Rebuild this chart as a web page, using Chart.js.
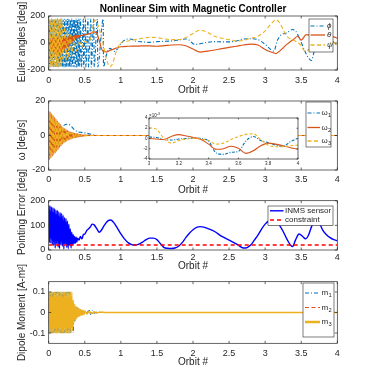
<!DOCTYPE html>
<html>
<head>
<meta charset="utf-8">
<script src="https://cdn.jsdelivr.net/npm/chart.js@4.4.1/dist/chart.umd.min.js"></script>
<style>
html,body{margin:0;padding:0;background:#fff;}
#fig{position:relative;width:373px;height:370px;background:#fff;overflow:hidden;}
#fig canvas{position:absolute;left:0;top:0;}
</style>
</head>
<body>
<div id="fig">
<canvas id="euler" width="373" height="370"></canvas>
<canvas id="rate" width="373" height="370"></canvas>
<canvas id="inset" width="373" height="370"></canvas>
<canvas id="point" width="373" height="370"></canvas>
<canvas id="dipole" width="373" height="370"></canvas>
</div>
<script>
// ---------------- tick values ----------------
const orbitTicks = [0, 0.5, 1, 1.5, 2, 2.5, 3, 3.5, 4];
const eulerTicks = [-200, 0, 200];
const rateTicks = [-20, 0, 20];
const pointTicks = [0, 100, 200];
const dipoleTicks = [-0.1, 0, 0.1];
const insetXTicks = [3, 3.2, 3.4, 3.6, 3.8, 4];
const insetYTicks = [-4, -2, 0, 2, 4];

// ---------------- legend names ----------------
const eulerNames = ['ϕ', 'θ', 'ψ'];
const rateNames = ['1', '2', '3'];
const pointNames = ['INMS sensor', 'constraint'];
const dipoleNames = ['1', '2', '3'];

// ---------------- shared fine orbit grid (early, fast oscillation part) ----------------
const orbitFine = [0,0.01,0.02,0.03,0.04,0.05,0.06,0.07,0.08,0.09,0.1,0.11,0.12,0.13,0.14,0.15,0.16,0.17,0.18,0.19,0.2,0.21,0.22,0.23,0.24,0.25,0.26,0.27,0.28,0.29,0.3,0.31,0.32,0.33,0.34,0.35,0.36,0.37,0.38,0.39,0.4,0.41,0.42,0.43,0.44,0.45,0.46,0.47,0.48,0.49,0.5];

// ---------------- Euler angles [deg] ----------------
const phiFineY = [175,-178,172,-176,178,-170,176,-179,170,-175,177,-172,179,-176,174,-178,176,-173,178,-175,172,-177,175,-179,171,-176,178,-174,175,-178,173,-176,179,-172,176,-178,174,-175,177,-179,172,-176,178,-174,176];
const phiTailX = [0.455,0.48,0.485,0.51,0.515,0.545,0.55,0.585,0.59,0.625,0.63,0.675,0.68,0.755,0.76,0.79,0.82,0.85,0.88,0.91,0.95,1.0,1.05,1.1,1.15,1.2,1.3,1.4,1.5,1.6,1.7,1.8,1.9,1.95,2.0,2.05,2.1,2.2,2.3,2.4,2.5,2.6,2.7,2.8,2.9,3.0,3.08,3.12,3.17,3.22,3.3,3.38,3.42,3.48,3.55,3.6,3.64,3.68,3.72,3.78,3.85,3.92,4.0];
const phiTailY = [-178,178,-178,178,-178,178,-178,178,-178,178,-178,178,-178,178,-178,-110,-55,-40,-50,-62,-45,-5,20,30,28,15,8,5,10,12,15,22,30,20,-5,-10,-5,5,10,8,8,15,30,32,25,-10,-50,-60,20,60,75,100,90,30,-60,-110,-130,-60,30,70,60,20,-20];

const thetaFineY = [30,-35,38,-42,38,-60,42,-70,45,-85,50,-92,48,-95,45,-95,44,-88,42,-75,45,-62,44,-50,45,-38,47,-25,48,-12,50,-2,52,10,54,20,56,28,58,36,58,42,58,48,56];
const thetaTailX = [0.46,0.5,0.55,0.6,0.63,0.66,0.7,0.73,0.76,0.8,0.85,0.9,0.95,1.0,1.1,1.2,1.3,1.4,1.5,1.6,1.7,1.8,1.9,2.0,2.1,2.2,2.3,2.4,2.5,2.6,2.7,2.8,2.9,3.0,3.1,3.15,3.2,3.3,3.4,3.45,3.5,3.57,3.65,3.75,3.85,3.95,4.0];
const thetaTailY = [55,60,68,75,82,78,20,-40,-62,-65,-55,-45,-35,-28,-24,-23,-22,-22,-24,-20,-15,-13,-20,-45,-67,-60,-52,-42,-33,-24,-15,-8,-15,-48,-70,-78,-60,-10,30,50,22,62,55,45,50,45,35];

const psiFineY = [178,-176,175,-178,177,-174,176,-179,174,-177,178,-175,176,-178,173,-176,178,-172,170];
const psiTailX = [0.2,0.22,0.24,0.26,0.28,0.3,0.32,0.35,0.38,0.42,0.46,0.5,0.55,0.6,0.64,0.67,0.71,0.76,0.8,0.85,0.88,0.92,0.96,1.0,1.1,1.2,1.3,1.4,1.5,1.6,1.7,1.8,1.9,2.0,2.1,2.2,2.3,2.4,2.5,2.6,2.7,2.8,2.9,3.0,3.08,3.15,3.2,3.25,3.3,3.4,3.5,3.55,3.6,3.7,3.8,3.9,4.0];
const psiTailY = [-150,120,-130,90,-110,60,-90,40,-60,20,-30,10,0,80,170,150,85,-20,-120,-175,-160,-90,-30,0,15,25,35,42,40,30,25,25,40,70,95,80,50,35,25,15,20,35,50,90,140,172,150,100,50,20,-20,-60,-50,0,40,30,-20];

// ---------------- body rates ω [deg/s] ----------------
const omega1X = [0,0.05,0.1,0.15,0.2,0.25,0.28,0.32,0.36,0.4,0.45,0.5,0.55,0.6,0.65,0.7,1,2,3,4];
const omega1Y = [0,1,2,3.5,5.5,6.5,6.4,5,3.2,2.2,1.8,1.5,1.1,0.6,0.2,0,0,0,0,0];
const omega2FineY = [14,-14,13.5,-13,12.5,-12,11.5,-11,10.5,-10,9.5,-9,8.5,-8,7.5,-7,6.5,-6,5.5,-5,4.5,-4.2,4,-3.7,3.4,-3.1,2.8,-2.6,2.4,-2.2,2,-1.9,1.8,-1.6,1.5,-1.4,1.3,-1.2,1.1,-1,0.9,-0.8,0.7,-0.6,0.5,-0.5,0.4,-0.35,0.3,-0.25,0.2];
const omega3FineY = [-13.5,13.8,-13,12.8,-12.2,11.8,-11.2,10.8,-10.2,9.8,-9.2,8.8,-8.2,7.8,-7.2,6.8,-6.2,5.8,-5.2,4.8,-4.4,4.1,-3.8,3.6,-3.3,3.0,-2.8,2.5,-2.3,2.1,-2.0,1.8,-1.7,1.6,-1.4,1.3,-1.2,1.1,-1.0,0.9,-0.8,0.7,-0.6,0.55,-0.5,0.45,-0.4,0.3,-0.3,0.2,-0.2];
const omegaTailX = [0.55,0.6,0.7,1,2,3,4];
const omega2TailY = [0.1,0,0,0,0,0,0];
const omega3TailY = [-0.1,0,0,0,0,0,0];

// inset (orbit 3..4, values in units of 1e-3 deg/s)
const insetX = [3,3.05,3.1,3.15,3.2,3.25,3.3,3.35,3.4,3.45,3.5,3.55,3.6,3.65,3.7,3.75,3.8,3.85,3.9,3.95,4];
const insetW1 = [0.3,0.2,-0.2,-0.3,-0.1,0.0,0.1,0.0,-0.5,-2.8,-3.1,-2.7,-2.5,-0.5,0.4,-0.4,-0.8,-1.3,-1.5,-0.6,0.05];
const insetW2 = [0,-0.1,-0.2,0.4,0.75,0.5,0.2,-0.2,-1.1,-2.1,-2.0,-1.5,-1.9,-2.9,-2.4,-1.4,-0.9,-1.1,-1.4,-1.8,-2.1];
const insetW3 = [2.1,1.8,0.0,-0.9,-0.4,-0.1,0.05,-0.1,-0.4,-1.1,-0.9,-0.2,0.4,0.8,0.9,-0.2,-1.3,-1.6,-1.6,-1.4,-1.3];

// ---------------- pointing error [deg] ----------------
const pointFineY = [182,30,178,28,175,22,172,18,168,8,162,25,160,12,155,6,150,20,148,15,140,4,132,22,128,10,118,5,105,18,85,8,72,20,62,25,55,28,52,32,48];
const pointTailX = [0.42,0.44,0.46,0.48,0.5,0.53,0.55,0.58,0.6,0.63,0.67,0.7,0.73,0.77,0.82,0.86,0.9,0.95,1.0,1.05,1.1,1.15,1.2,1.25,1.3,1.35,1.4,1.45,1.5,1.55,1.6,1.65,1.7,1.75,1.8,1.85,1.9,1.95,2.0,2.05,2.1,2.15,2.2,2.3,2.4,2.5,2.6,2.65,2.7,2.75,2.8,2.85,2.9,2.95,3.0,3.05,3.1,3.15,3.2,3.25,3.3,3.35,3.38,3.42,3.47,3.52,3.56,3.6,3.65,3.7,3.75,3.8,3.85,3.9,3.95,4.0];
const pointTailY = [40,55,45,62,65,80,85,95,105,102,85,72,80,100,118,122,112,90,65,45,30,22,20,24,32,42,48,48,42,25,10,7,6,8,15,30,50,68,82,92,95,93,88,75,55,40,25,15,8,10,20,40,60,85,105,118,125,120,100,75,45,20,14,40,65,55,45,60,100,125,110,80,62,50,42,38];
const constraintX = [0, 4];
const constraintY = [20, 20];

// ---------------- dipole moment [A-m^2] ----------------
const m1FineY = [-0.1,0.1,-0.1,0.1,-0.1,0.1,-0.1,0.1,-0.1,0.1,-0.1,0.1,-0.1,0.1,-0.1,0.1,-0.1,0.1,-0.1,0.1,-0.1,0.1,-0.1,0.1,-0.1,0.1,-0.1,0.1,-0.1,0.1,-0.1,0.06,-0.07,0.05,-0.1,0.04,-0.045,0.03,-0.03,0.025,-0.02,0.02,-0.015,0.015,-0.012,0.01,-0.01,0.01,-0.008,0.008,-0.006];
const m1TailX = [0.53,0.56,0.58,0.6,0.63,0.66,0.7,0.8,1,2,3,4];
const m1TailY = [-0.005,0.015,-0.01,0.012,-0.004,0.003,0,0,0,0,0,0];
const m2FineY = [0.07,-0.07,0.07,-0.07,0.07,-0.07,0.07,-0.07,0.07,-0.07,0.07,-0.07,0.07,-0.07,0.07,-0.07,0.07,-0.07,0.07,-0.07,0.07,-0.07,0.07,-0.07,0.07,-0.07,0.07,-0.07,0.07,-0.07,0.07,0.05,-0.04,0.03,-0.03,0.02,-0.02,0.015,-0.015,0.01,-0.01,0.01,-0.008,0.008,-0.006,0.006,-0.005,0.004,-0.004,0.003,-0.003];
const m2TailX = [0.55,0.6,0.7,0.8,1,2,3,4];
const m2TailY = [0.003,-0.002,0.001,0,0,0,0,0];
const m3FineY = [0.1,-0.1,0.1,-0.1,0.1,-0.1,0.1,-0.1,0.1,-0.1,0.1,-0.1,0.1,-0.1,0.1,-0.1,0.1,-0.1,0.1,-0.1,0.1,-0.1,0.1,-0.1,0.1,-0.1,0.1,-0.1,0.1,-0.1,0.1,-0.1,0.1,-0.09,0.06,-0.05,0.04,-0.04,0.03,-0.03,0.025,-0.02,0.02,-0.018,0.015,-0.015,0.012,-0.012,0.01,-0.01,0.008];
const m3TailX = [0.53,0.56,0.6,0.63,0.66,0.7,0.8,1,2,3,4];
const m3TailY = [-0.008,0.006,-0.006,0.004,-0.003,0.002,0,0,0,0,0];

// =====================================================================
const FONT = "'Liberation Sans', Arial, Helvetica, sans-serif";
const INK = '#262626';
const BLUE = '#0072BD', ORANGE = '#D95319', YELLOW = '#EDB120';
const DASHDOT = [4, 2, 1, 2], DASHED = [4, 2.5];

function pts(xs, ys) { return ys.map((y, i) => ({ x: xs[i], y })); }
function joined(fineY, tailX, tailY) {
  return pts(orbitFine.slice(0, fineY.length).concat(tailX), fineY.concat(tailY));
}
function line(data, color, width, dash, order) {
  return { data, borderColor: color, backgroundColor: color, borderWidth: width, borderDash: dash || [],
    pointRadius: 0, pointHoverRadius: 0, fill: false, tension: 0.3, cubicInterpolationMode: 'monotone', order };
}

function drawLegend(ctx, L) {
  ctx.save();
  ctx.fillStyle = '#fff';
  ctx.fillRect(L.x, L.y, L.w, L.h);
  ctx.strokeStyle = INK; ctx.lineWidth = 0.6;
  ctx.strokeRect(L.x, L.y, L.w, L.h);
  L.items.forEach(it => {
    ctx.beginPath();
    ctx.setLineDash(it.dash || []);
    ctx.strokeStyle = it.color; ctx.lineWidth = it.width;
    ctx.moveTo(L.lx0, it.y); ctx.lineTo(L.lx1, it.y); ctx.stroke();
    ctx.setLineDash([]);
    ctx.fillStyle = INK; ctx.textAlign = 'left'; ctx.textBaseline = 'middle';
    ctx.font = (L.italic ? 'italic ' : '') + L.size + 'px ' + FONT;
    ctx.fillText(it.text, L.tx, it.y);
    if (it.sub) {
      const w = ctx.measureText(it.text).width;
      ctx.font = (L.size * 0.72) + 'px ' + FONT;
      ctx.fillText(it.sub, L.tx + w + 0.3, it.y + L.size * 0.32);
    }
  });
  ctx.restore();
}

const framePlugin = {
  id: 'frame',
  beforeDatasetsDraw(chart, args, o) {
    if (o.blank) {
      const a = chart.chartArea, c = chart.ctx;
      c.save(); c.fillStyle = '#fff'; c.fillRect(a.left, a.top, a.right - a.left, a.bottom - a.top); c.restore();
    }
  },
  afterDraw(chart, args, o) {
    const c = chart.ctx, a = chart.chartArea, xs = chart.scales.x, ys = chart.scales.y;
    const L = o.tick || 2.5;
    c.save();
    c.strokeStyle = INK; c.lineWidth = 0.7; c.setLineDash([]);
    c.strokeRect(a.left, a.top, a.right - a.left, a.bottom - a.top);
    c.beginPath();
    xs.ticks.forEach(t => {
      const p = xs.getPixelForValue(t.value);
      c.moveTo(p, a.bottom); c.lineTo(p, a.bottom - L);
      c.moveTo(p, a.top); c.lineTo(p, a.top + L);
    });
    ys.ticks.forEach(t => {
      const p = ys.getPixelForValue(t.value);
      c.moveTo(a.left, p); c.lineTo(a.left + L, p);
      c.moveTo(a.right, p); c.lineTo(a.right - L, p);
    });
    c.stroke();
    if (o.ylabel) {
      c.save();
      c.translate(o.ylabel.x, o.ylabel.y);
      c.rotate(-Math.PI / 2);
      c.fillStyle = INK; c.textAlign = 'center'; c.textBaseline = 'alphabetic';
      c.font = '10px ' + FONT;
      c.fillText(o.ylabel.text, 0, 0);
      c.restore();
    }
    if (o.exponent) {
      const e = o.exponent;
      c.fillStyle = INK; c.textAlign = 'left'; c.textBaseline = 'alphabetic';
      c.font = e.size + 'px ' + FONT;
      c.fillText(e.base, e.x, e.y);
      const w = c.measureText(e.base).width;
      c.font = (e.size * 0.75) + 'px ' + FONT;
      c.fillText(e.exp, e.x + w + 0.2, e.y - e.size * 0.4);
    }
    if (o.legend) drawLegend(c, o.legend);
    c.restore();
  }
};

function makeChart(id, cfg) {
  const tickFont = { family: FONT, size: cfg.tickSize || 9 };
  return new Chart(document.getElementById(id), {
    type: 'line',
    data: { datasets: cfg.datasets },
    options: {
      responsive: false, animation: false, devicePixelRatio: 1, events: [],
      layout: { padding: cfg.padding },
      scales: {
        x: {
          type: 'linear', min: cfg.xmin, max: cfg.xmax,
          grid: { display: false, drawTicks: false, tickLength: 0 }, border: { display: false },
          ticks: { color: INK, font: tickFont, padding: cfg.xPad, autoSkip: false, maxRotation: 0, minRotation: 0, callback: v => String(v) },
          afterBuildTicks: s => { s.ticks = cfg.xTicks.map(v => ({ value: v })); },
          afterFit: s => { s.height = cfg.xh; },
          title: cfg.xTitle ? { display: true, text: cfg.xTitle, color: INK, font: { family: FONT, size: 10 }, padding: { top: 0, bottom: 0 } } : { display: false }
        },
        y: {
          type: 'linear', min: cfg.ymin, max: cfg.ymax,
          grid: { display: false, drawTicks: false, tickLength: 0 }, border: { display: false },
          ticks: { color: INK, font: tickFont, padding: cfg.yPad, autoSkip: false, callback: v => String(v) },
          afterBuildTicks: s => { s.ticks = cfg.yTicks.map(v => ({ value: v })); },
          afterFit: s => { s.width = cfg.yw; }
        }
      },
      plugins: {
        legend: { display: false },
        tooltip: { enabled: false },
        title: cfg.title ? { display: true, text: cfg.title, color: '#000', fullSize: false,
          font: { family: FONT, size: 10, weight: 'bold' }, padding: { top: 3, bottom: 1 } } : { display: false },
        frame: cfg.frame
      }
    },
    plugins: [framePlugin]
  });
}

const YLAB_X = 24.5;

// ---- Panel 1: Euler angles ----
makeChart('euler', {
  datasets: [
    line(joined(phiFineY, phiTailX, phiTailY), BLUE, 1.1, DASHDOT, 3),
    line(joined(thetaFineY, thetaTailX, thetaTailY), ORANGE, 1.2, [], 2),
    line(joined(psiFineY, psiTailX, psiTailY), YELLOW, 1.1, DASHED, 1)
  ],
  title: 'Nonlinear Sim with Magnetic Controller',
  padding: { left: 0, right: 35.7, top: 0, bottom: 274 },
  xmin: 0, xmax: 4, ymin: -200, ymax: 200, xTicks: orbitTicks, yTicks: eulerTicks,
  xh: 26, yw: 48.7, xPad: 5, yPad: 3.5, xTitle: 'Orbit #',
  frame: {
    ylabel: { text: 'Euler angles [deg]', x: YLAB_X, y: 42 },
    legend: { x: 309, y: 19, w: 24, h: 33, lx0: 310.5, lx1: 325, tx: 327, size: 8, italic: true,
      items: [
        { text: eulerNames[0], color: BLUE, dash: DASHDOT, width: 1.1, y: 26 },
        { text: eulerNames[1], color: ORANGE, dash: [], width: 1.3, y: 35 },
        { text: eulerNames[2], color: YELLOW, dash: DASHED, width: 1.3, y: 45 }
      ] }
  }
});

// ---- Panel 2: body rates ----
makeChart('rate', {
  datasets: [
    line(pts(omega1X, omega1Y), BLUE, 1.1, DASHDOT, 3),
    line(joined(omega2FineY, omegaTailX, omega2TailY), ORANGE, 1.2, [], 2),
    line(joined(omega3FineY, omegaTailX, omega3TailY), YELLOW, 1.1, DASHED, 1)
  ],
  padding: { left: 0, right: 35.7, top: 101, bottom: 174 },
  xmin: 0, xmax: 4, ymin: -20, ymax: 20, xTicks: orbitTicks, yTicks: rateTicks,
  xh: 26, yw: 48.7, xPad: 4, yPad: 3.5, xTitle: 'Orbit #',
  frame: {
    ylabel: { text: 'ω [deg/s]', x: YLAB_X, y: 140 },
    legend: { x: 306, y: 102, w: 25, h: 45, lx0: 307.5, lx1: 320, tx: 321.5, size: 8,
      items: [
        { text: 'ω', sub: rateNames[0], color: BLUE, dash: DASHDOT, width: 1.1, y: 113 },
        { text: 'ω', sub: rateNames[1], color: ORANGE, dash: [], width: 1.3, y: 127.5 },
        { text: 'ω', sub: rateNames[2], color: YELLOW, dash: DASHED, width: 1.3, y: 141 }
      ] }
  }
});

// ---- Inset: body rates, last orbit ----
makeChart('inset', {
  datasets: [
    line(pts(insetX, insetW1), BLUE, 1.1, [3, 1.5, 1, 1.5], 3),
    line(pts(insetX, insetW2), ORANGE, 1.1, [], 2),
    line(pts(insetX, insetW3), YELLOW, 1.1, [3, 2], 1)
  ],
  padding: { left: 0, right: 75, top: 118, bottom: 201 },
  xmin: 3, xmax: 4, ymin: -4, ymax: 4, xTicks: insetXTicks, yTicks: insetYTicks,
  xh: 10, yw: 149, xPad: 1.8, yPad: 1.5, tickSize: 4.5,
  frame: { blank: true, tick: 1.5, exponent: { base: '×10', exp: '-3', x: 149, y: 116.5, size: 4.5 } }
});

// ---- Panel 3: pointing error ----
makeChart('point', {
  datasets: [
    line(joined(pointFineY, pointTailX, pointTailY), '#0000FF', 1.4, [], 2),
    line(pts(constraintX, constraintY), '#FF0000', 1.4, [4, 3], 1)
  ],
  padding: { left: 0, right: 35.7, top: 200.7, bottom: 98 },
  xmin: 0, xmax: 4, ymin: 0, ymax: 200, xTicks: orbitTicks, yTicks: pointTicks,
  xh: 22, yw: 48.7, xPad: 2, yPad: 3.5, xTitle: 'Orbit #',
  frame: {
    ylabel: { text: 'Pointing Error [deg]', x: YLAB_X, y: 212 },
    legend: { x: 268, y: 206, w: 65, h: 19.5, lx0: 270, lx1: 283.5, tx: 285, size: 8,
      items: [
        { text: pointNames[0], color: '#0000FF', dash: [], width: 1.4, y: 210.8 },
        { text: pointNames[1], color: '#FF0000', dash: [4, 3], width: 1.4, y: 220 }
      ] }
  }
});

// ---- Panel 4: dipole moment ----
makeChart('dipole', {
  datasets: [
    line(joined(m1FineY, m1TailX, m1TailY), BLUE, 1.0, DASHDOT, 3),
    line(joined(m2FineY, m2TailX, m2TailY), ORANGE, 1.0, DASHED, 2),
    line(joined(m3FineY, m3TailX, m3TailY), YELLOW, 1.4, [], 1)
  ],
  padding: { left: 0, right: 35.7, top: 281.7, bottom: 1.3 },
  xmin: 0, xmax: 4, ymin: -0.15, ymax: 0.15, xTicks: orbitTicks, yTicks: dipoleTicks,
  xh: 25.4, yw: 48.7, xPad: 4.5, yPad: 3.5, xTitle: 'Orbit #',
  frame: {
    ylabel: { text: 'Dipole Moment [A-m²]', x: YLAB_X, y: 312.5 },
    legend: { x: 303, y: 283, w: 31, h: 54, lx0: 305, lx1: 320, tx: 321.5, size: 8,
      items: [
        { text: 'm', sub: dipoleNames[0], color: BLUE, dash: DASHDOT, width: 1.1, y: 293 },
        { text: 'm', sub: dipoleNames[1], color: ORANGE, dash: DASHED, width: 1.2, y: 307.5 },
        { text: 'm', sub: dipoleNames[2], color: YELLOW, dash: [], width: 2.5, y: 322 }
      ] }
  }
});
</script>
</body>
</html>
